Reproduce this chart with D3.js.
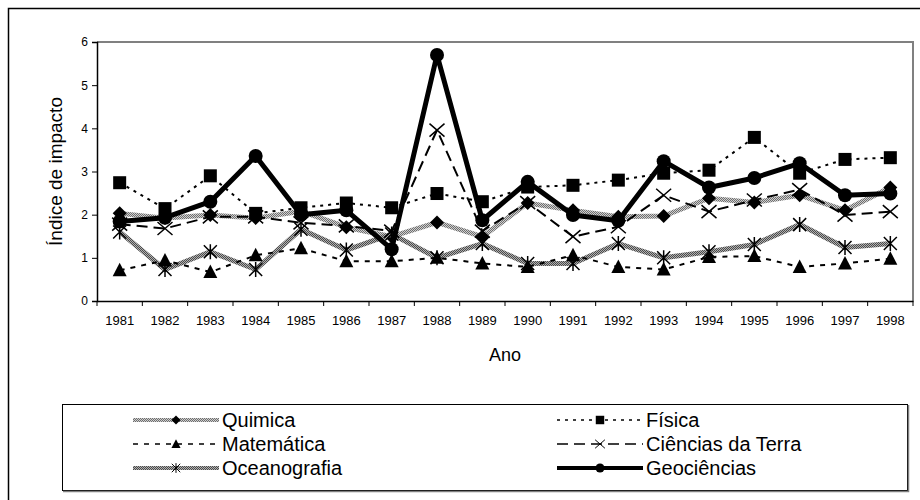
<!DOCTYPE html>
<html>
<head>
<meta charset="utf-8">
<script src="https://cdn.jsdelivr.net/npm/d3@7"></script>
<style>
    body { margin: 0; background: #fff; }
    text { font-family: Arial, "Liberation Sans", sans-serif; fill: #000; }
</style>
</head>
<body>
<div id="chart"></div>
<script>
var anos = ["1981", "1982", "1983", "1984", "1985", "1986", "1987", "1988", "1989",
    "1990", "1991", "1992", "1993", "1994", "1995", "1996", "1997", "1998"];
var yTicks = [0, 1, 2, 3, 4, 5, 6];

var quimica = [2.03, 1.92, 1.99, 1.92, 2.08, 1.71, 1.49, 1.82, 1.49, 2.27, 2.1, 1.95, 1.97, 2.38, 2.28, 2.45, 2.1, 2.63];
var fisica = [2.74, 2.14, 2.9, 2.03, 2.16, 2.27, 2.16, 2.49, 2.3, 2.64, 2.68, 2.8, 2.96, 3.03, 3.79, 2.96, 3.28, 3.32];
var matematica = [0.71, 0.94, 0.67, 1.06, 1.22, 0.92, 0.92, 1.0, 0.87, 0.79, 1.06, 0.79, 0.73, 1.02, 1.04, 0.79, 0.87, 0.98];
var cienciasTerra = [1.78, 1.68, 1.95, 1.95, 1.81, 1.74, 1.62, 3.96, 1.62, 2.28, 1.49, 1.72, 2.45, 2.07, 2.34, 2.58, 1.99, 2.07];
var oceanografia = [1.6, 0.73, 1.14, 0.73, 1.66, 1.18, 1.55, 1.0, 1.33, 0.87, 0.87, 1.33, 1.0, 1.14, 1.31, 1.77, 1.24, 1.33];
var geociencias = [1.84, 1.93, 2.3, 3.36, 2.0, 2.1, 1.2, 5.7, 1.87, 2.76, 1.99, 1.86, 3.24, 2.63, 2.85, 3.19, 2.45, 2.49];

var series = [
    { name: "Quimica", values: quimica, stroke: "url(#texLight)", width: 5, legendWidth: 4, dash: null, marker: "diamond" },
    { name: "Física", values: fisica, stroke: "#000", width: 2, legendWidth: 1.5, dash: "3,5", marker: "square" },
    { name: "Matemática", values: matematica, stroke: "#000", width: 2, legendWidth: 1.5, dash: "5,6", marker: "triangle" },
    { name: "Ciências da Terra", values: cienciasTerra, stroke: "#000", width: 2, legendWidth: 1.5, dash: "11,6", marker: "cross" },
    { name: "Oceanografia", values: oceanografia, stroke: "url(#texDark)", width: 5, legendWidth: 4, dash: null, marker: "asterisk" },
    { name: "Geociências", values: geociencias, stroke: "#000", width: 5, legendWidth: 4, dash: null, marker: "circle" }
];
// draw order: thick gray first, then dashed, then the black thick line on top
var drawOrder = [0, 4, 2, 1, 3, 5];

var width = 920, height = 500;
var plotLeft = 97, plotRight = 913, plotTop = 42, plotBottom = 301;

var svg = d3.select("#chart").append("svg")
    .attr("width", width)
    .attr("height", height);

var defs = svg.append("defs");
function texture(id, c1, c2) {
    var p = defs.append("pattern")
        .attr("id", id)
        .attr("patternUnits", "userSpaceOnUse")
        .attr("width", 2).attr("height", 2);
    p.append("rect").attr("width", 2).attr("height", 2).attr("fill", c2);
    p.append("rect").attr("width", 1).attr("height", 1).attr("fill", c1);
    p.append("rect").attr("x", 1).attr("y", 1).attr("width", 1).attr("height", 1).attr("fill", c1);
}
texture("texLight", "#6e6e6e", "#cfcfcf");
texture("texDark", "#4a4a4a", "#b0b0b0");

// outer frame (runs off the picture at right and bottom)
svg.append("rect")
    .attr("x", 8.5).attr("y", 8.5)
    .attr("width", 930).attr("height", 510)
    .attr("fill", "none").attr("stroke", "#000").attr("stroke-width", 1.5);

var x = d3.scaleBand()
    .domain(anos)
    .range([plotLeft, plotRight]);

var y = d3.scaleLinear()
    .domain([0, 6])
    .range([plotBottom, plotTop]);

// plot border top/right
svg.append("path")
    .attr("d", "M" + plotLeft + "," + plotTop + "H" + plotRight + "V" + plotBottom)
    .attr("fill", "none").attr("stroke", "#808080").attr("stroke-width", 2);

var axisY = svg.append("g")
    .attr("transform", "translate(" + plotLeft + ",0)")
    .call(d3.axisLeft(y).tickValues(yTicks).tickSize(5).tickPadding(4).tickFormat(d3.format("d")));
axisY.select(".domain").attr("stroke", "#000").attr("stroke-width", 1.5);
axisY.selectAll("text").attr("font-size", "12px");

var axisX = svg.append("g")
    .attr("transform", "translate(0," + plotBottom + ")")
    .call(d3.axisBottom(x).tickSize(0).tickPadding(15));
axisX.select(".domain").attr("stroke", "#000").attr("stroke-width", 1.5);
axisX.selectAll("text").attr("font-size", "13px");

// tick marks between categories
axisX.selectAll(".sep")
    .data(anos.concat(["end"]))
    .enter().append("line")
    .attr("class", "sep")
    .attr("x1", function (d, i) { return plotLeft + i * x.step(); })
    .attr("x2", function (d, i) { return plotLeft + i * x.step(); })
    .attr("y1", 0).attr("y2", 5)
    .attr("stroke", "#000");

svg.append("text")
    .attr("transform", "translate(62," + ((plotTop + plotBottom) / 2) + ") rotate(-90)")
    .attr("text-anchor", "middle")
    .attr("font-size", "19px")
    .text("Índice de impacto");

svg.append("text")
    .attr("x", (plotLeft + plotRight) / 2)
    .attr("y", 361)
    .attr("text-anchor", "middle")
    .attr("font-size", "18px")
    .text("Ano");

function drawMarker(sel, type) {
    if (type === "diamond") {
        sel.append("path").attr("d", "M0,-7L7,0L0,7L-7,0Z").attr("fill", "#000");
    } else if (type === "square") {
        sel.append("rect").attr("x", -6.5).attr("y", -6.5).attr("width", 13).attr("height", 13).attr("fill", "#000");
    } else if (type === "triangle") {
        sel.append("path").attr("d", "M0,-7.5L7,6L-7,6Z").attr("fill", "#000");
    } else if (type === "cross") {
        sel.append("path").attr("d", "M-7.5,-6.5L7.5,6.5M-7.5,6.5L7.5,-6.5").attr("stroke", "#000").attr("stroke-width", 1.5);
    } else if (type === "asterisk") {
        sel.append("path").attr("d", "M-6.5,-6.5L6.5,6.5M-6.5,6.5L6.5,-6.5M0,-7.5V7.5").attr("stroke", "#000").attr("stroke-width", 1.5);
    } else if (type === "circle") {
        sel.append("circle").attr("r", 7).attr("fill", "#000");
    }
}

var line = d3.line()
    .x(function (d, i) { return x(anos[i]) + x.bandwidth() / 2; })
    .y(function (d) { return y(d); });

drawOrder.forEach(function (k) {
    var s = series[k];
    svg.append("path")
        .datum(s.values)
        .attr("d", line)
        .attr("fill", "none")
        .attr("stroke", s.stroke)
        .attr("stroke-width", s.width)
        .attr("stroke-dasharray", s.dash)
        .attr("stroke-linejoin", "round");

    svg.selectAll(".m" + k)
        .data(s.values)
        .enter().append("g")
        .attr("class", "m" + k)
        .attr("transform", function (d, i) {
            return "translate(" + (x(anos[i]) + x.bandwidth() / 2) + "," + y(d) + ")";
        })
        .each(function () { drawMarker(d3.select(this), s.marker); });
});

// legend
var legend = svg.append("g");
legend.append("rect")
    .attr("x", 62.5).attr("y", 404.5)
    .attr("width", 845).attr("height", 86)
    .attr("fill", "#fff").attr("stroke", "#000");
legend.append("path")
    .attr("d", "M63,491.5H908.5V405")
    .attr("fill", "none").attr("stroke", "#808080").attr("stroke-width", 1.5);

var colX = [133, 557];
var rowY = [420, 444, 468];
series.forEach(function (s, i) {
    var cx = colX[i % 2], cy = rowY[Math.floor(i / 2)];
    var item = legend.append("g");
    item.append("line")
        .attr("x1", cx).attr("x2", cx + 86)
        .attr("y1", cy).attr("y2", cy)
        .attr("stroke", s.stroke)
        .attr("stroke-width", s.legendWidth)
        .attr("stroke-dasharray", s.dash);
    var mk = item.append("g").attr("transform", "translate(" + (cx + 43) + "," + cy + ") scale(0.65)");
    drawMarker(mk, s.marker);
    item.append("text")
        .attr("x", cx + 89)
        .attr("y", cy + 7)
        .attr("font-size", "20px")
        .attr("textLength", null)
        .text(s.name);
});
</script>
</body>
</html>
